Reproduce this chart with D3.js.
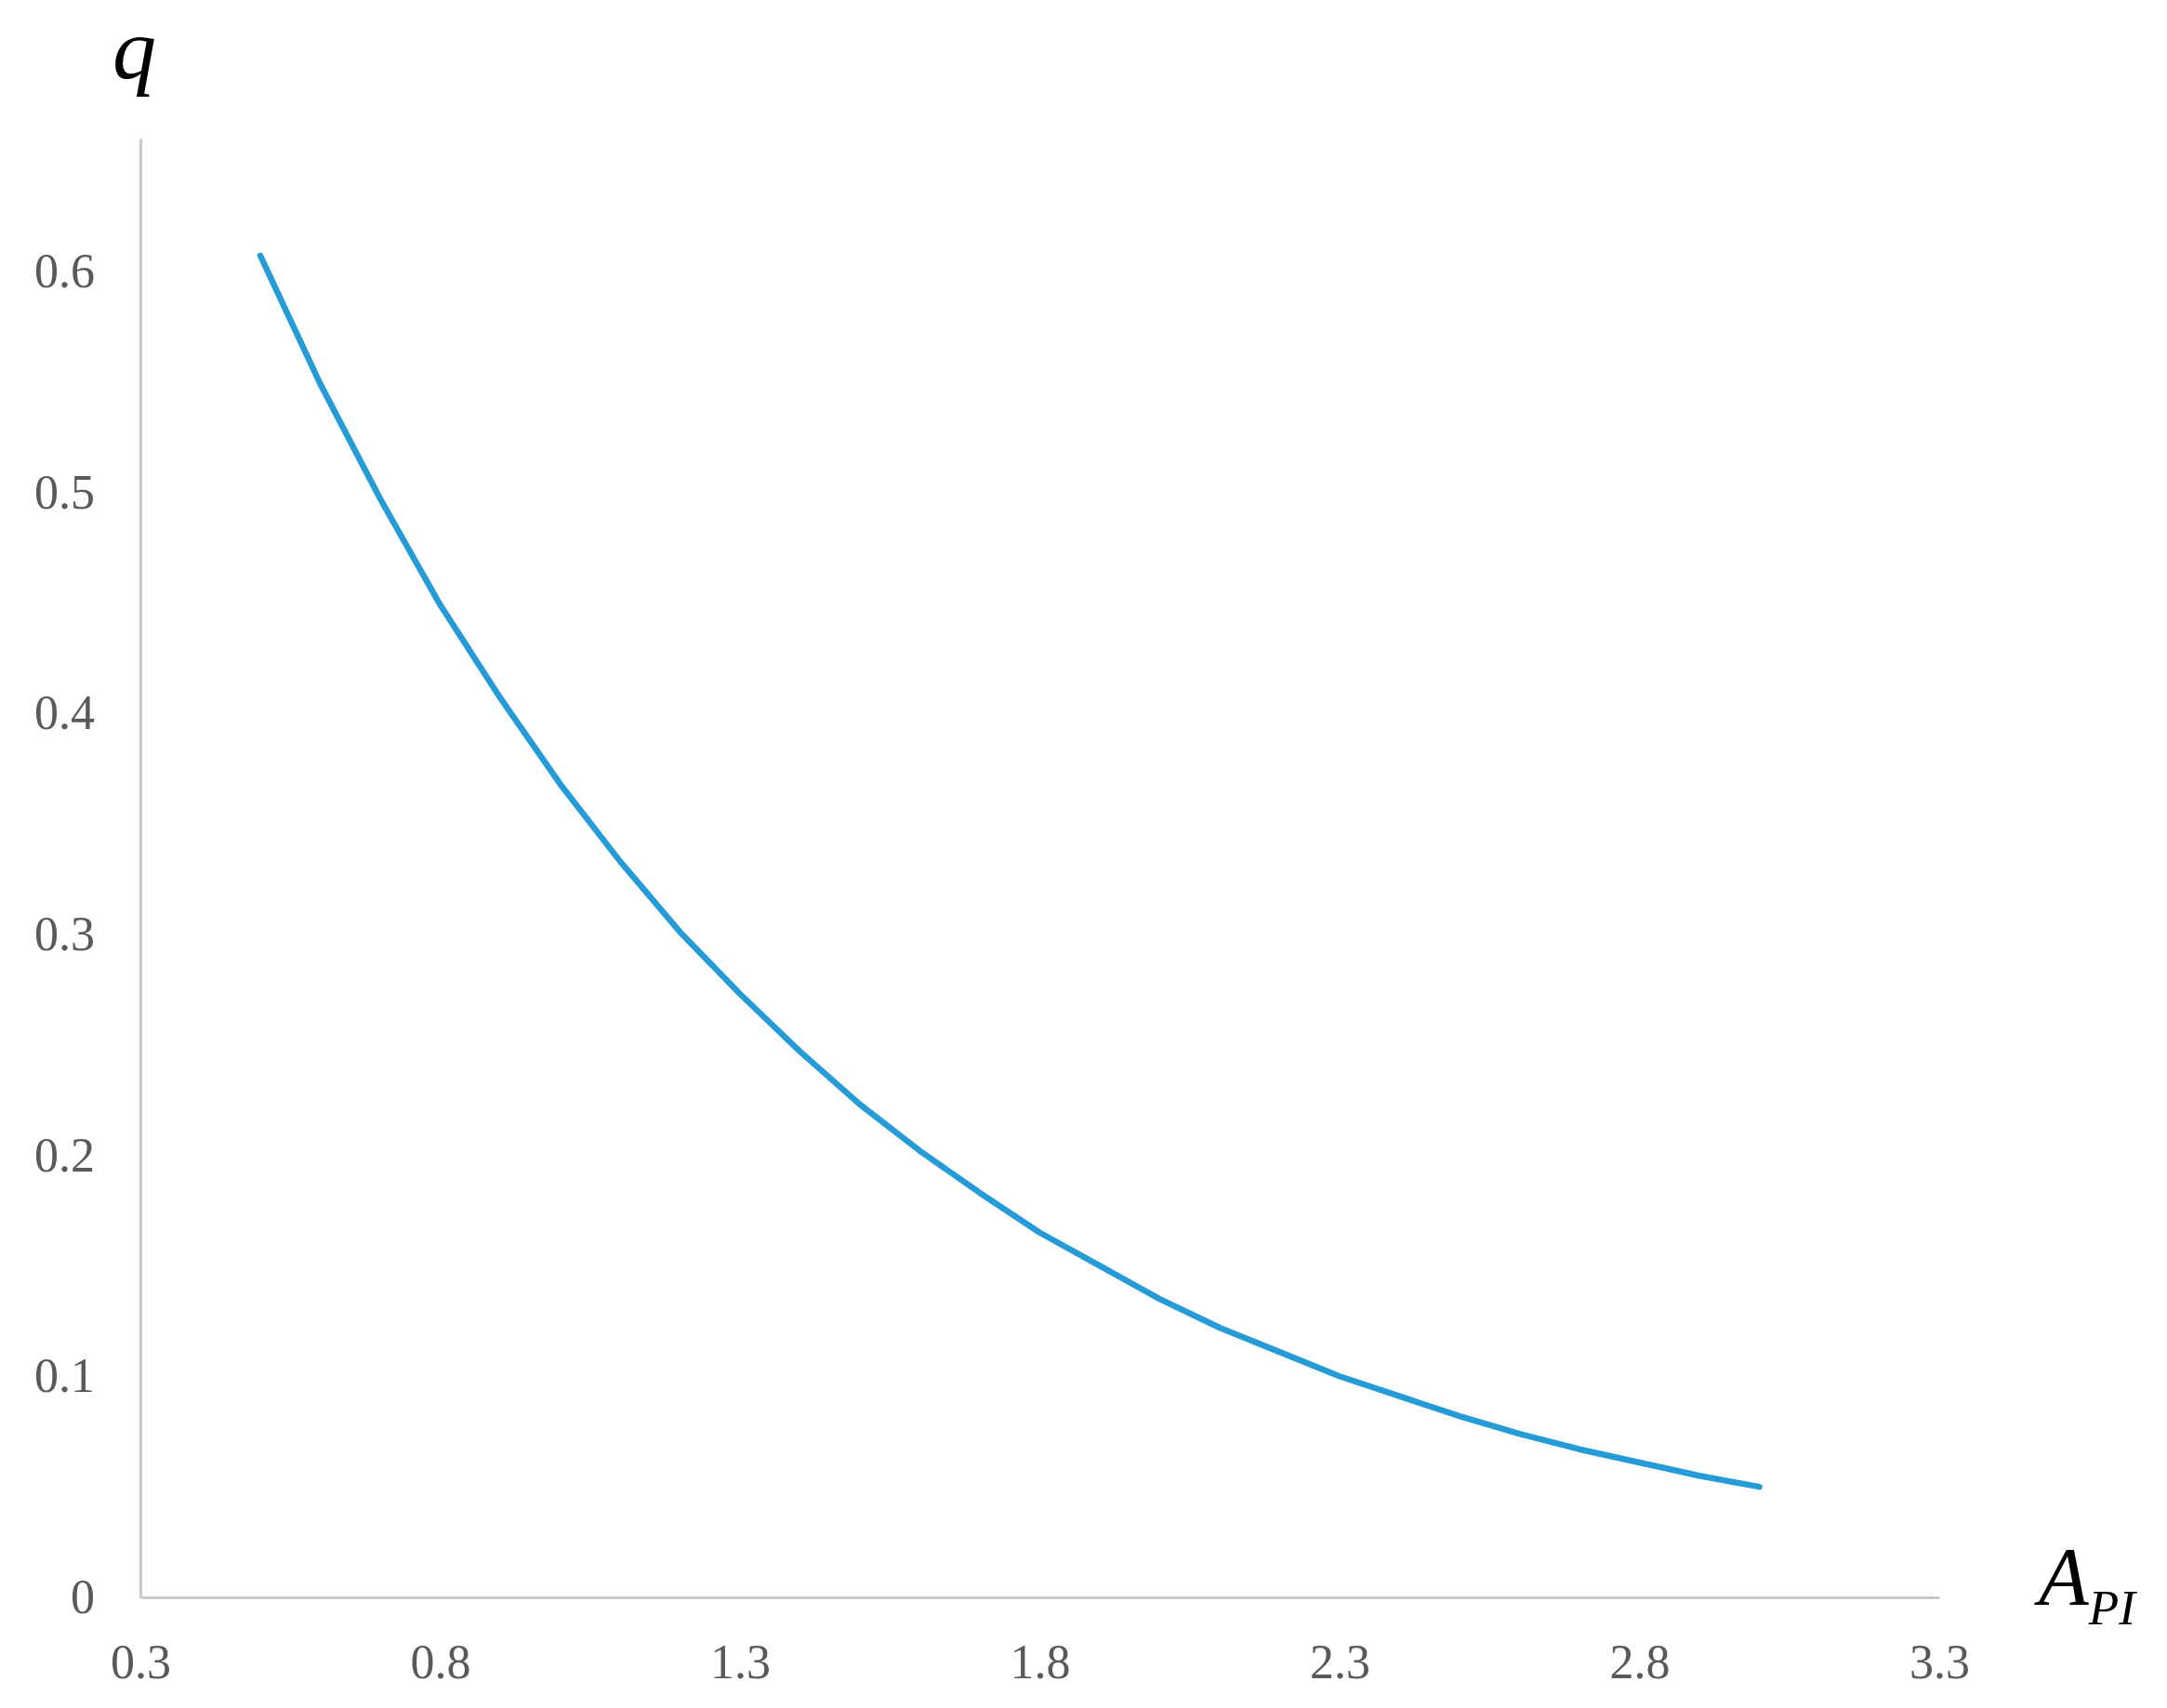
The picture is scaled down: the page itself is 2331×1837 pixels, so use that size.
<!DOCTYPE html>
<html>
<head>
<meta charset="utf-8">
<script src="https://cdn.jsdelivr.net/npm/d3@7"></script>
<style>
  body { margin: 0; background: #fff; }
  svg { display: block; }
</style>
</head>
<body>
<div id="chart"></div>
<script>
  // A_PI values along the curve, and q
  const api = [0.5, 0.6, 0.7, 0.8, 0.9, 1.0, 1.1, 1.2, 1.3, 1.4, 1.5, 1.6, 1.7,
               1.8, 1.9, 2.0, 2.1, 2.2, 2.3, 2.4, 2.5, 2.6, 2.7, 2.8, 2.9, 3.0]
  const q = [0.607, 0.549, 0.497, 0.449, 0.407, 0.368, 0.333, 0.301, 0.273, 0.247,
             0.223, 0.202, 0.183, 0.165, 0.150, 0.135, 0.122, 0.111, 0.100, 0.091,
             0.082, 0.074, 0.067, 0.061, 0.055, 0.050]
  const xTicks = [0.3, 0.8, 1.3, 1.8, 2.3, 2.8, 3.3]
  const yTicks = [0, 0.1, 0.2, 0.3, 0.4, 0.5, 0.6]

  const width = 2331
  const height = 1837
  const margin = { top: 149, right: 245, bottom: 119, left: 151 }

  const svg = d3.select('#chart')
    .append('svg')
    .attr('width', width)
    .attr('height', height)

  const x = d3.scaleLinear()
    .domain([0.3, 3.3])
    .range([margin.left, width - margin.right])

  const y = d3.scaleLinear()
    .domain([0, 0.66])
    .range([height - margin.bottom, margin.top])

  const font = '"Liberation Serif"'

  function xAxis(g) {
    g.attr('transform', `translate(0,${height - margin.bottom})`)
      .call(d3.axisBottom(x).tickValues(xTicks).tickSize(0).tickPadding(50).tickFormat(d3.format('.1f')))
      .call(g => g.select('.domain').attr('stroke', '#c9c9c9').attr('stroke-width', 3))
      .selectAll('text')
        .attr('font-family', font)
        .attr('font-size', 52)
        .attr('fill', '#595959')
  }

  function yAxis(g) {
    g.attr('transform', `translate(${margin.left},0)`)
      .call(d3.axisLeft(y).tickValues(yTicks).tickSize(0).tickPadding(49)
        .tickFormat(d => d === 0 ? '0' : d3.format('.1f')(d)))
      .call(g => g.select('.domain').attr('stroke', '#c9c9c9').attr('stroke-width', 3))
      .selectAll('text')
        .attr('font-family', font)
        .attr('font-size', 52)
        .attr('fill', '#595959')
  }

  svg.append('g').call(xAxis)
  svg.append('g').call(yAxis)

  const line = d3.line()
    .x((d, i) => x(api[i]))
    .y(d => y(d))

  svg.append('path')
    .datum(q)
    .attr('fill', 'none')
    .attr('stroke', '#259BD7')
    .attr('stroke-width', 6.5)
    .attr('stroke-linecap', 'round')
    .attr('stroke-linejoin', 'round')
    .attr('d', line)

  // axis titles
  svg.append('text')
    .attr('x', 121)
    .attr('y', 84)
    .attr('font-family', font)
    .attr('font-style', 'italic')
    .attr('font-size', 94)
    .attr('fill', '#000')
    .text('q')

  const xt = svg.append('text')
    .attr('x', 2193)
    .attr('y', 1725)
    .attr('font-family', font)
    .attr('font-style', 'italic')
    .attr('font-size', 88)
    .attr('fill', '#000')
  xt.append('tspan').text('A')
  xt.append('tspan').attr('font-size', 53).attr('dy', 22).text('PI')
</script>
</body>
</html>
